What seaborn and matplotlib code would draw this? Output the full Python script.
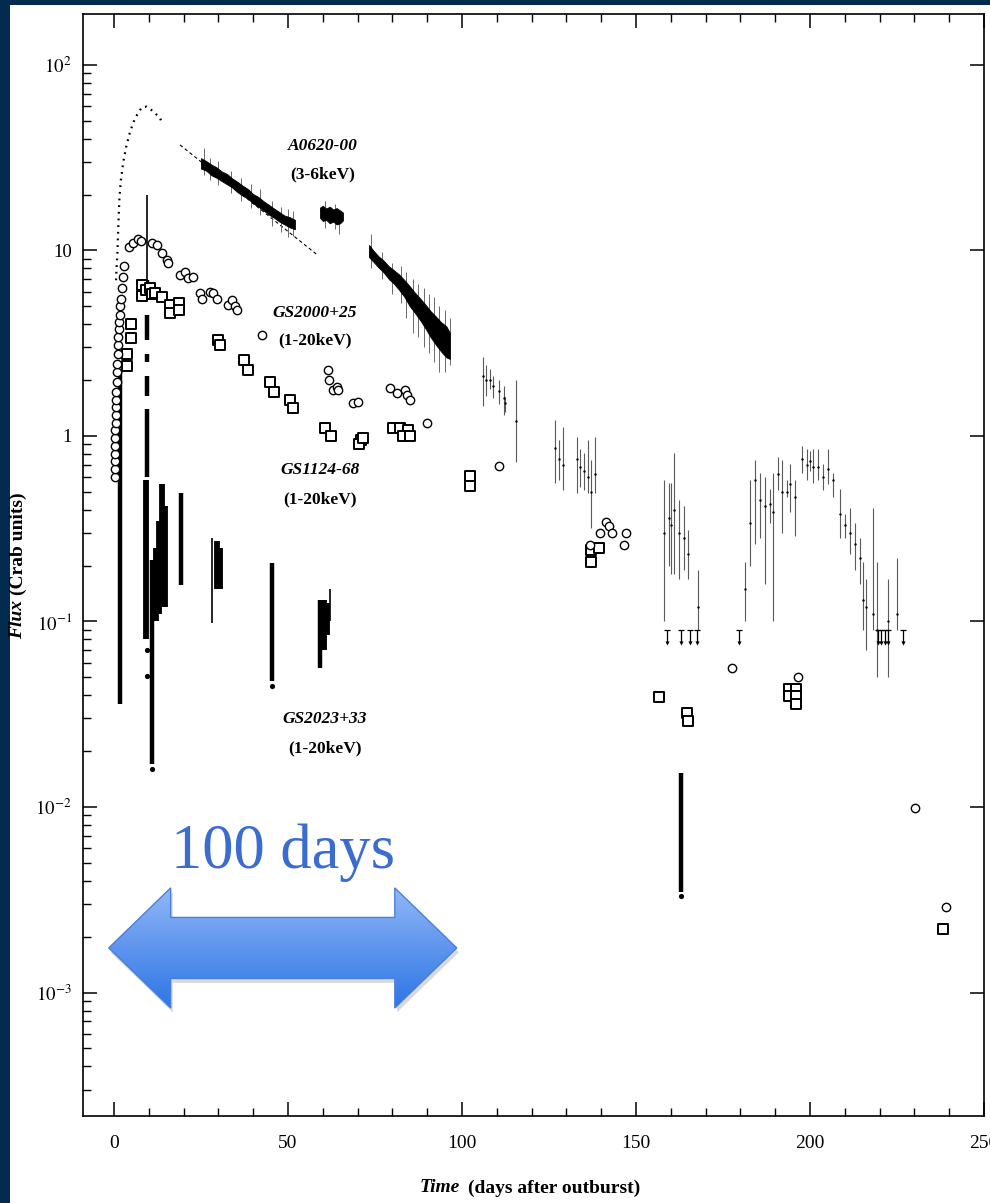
import numpy as np
import pandas as pd
import matplotlib
matplotlib.use("Agg")
import matplotlib.pyplot as plt
import seaborn as sns
from matplotlib.patches import Polygon, Rectangle
from matplotlib.colors import LinearSegmentedColormap
from matplotlib.ticker import MultipleLocator, LogLocator, NullFormatter

# ---------------------------------------------------------------- data
# A0620-00 (3-6 keV): dotted early rise
a0620_rise_day = [0.6, 0.8, 1.0, 1.2, 1.4, 1.6, 2.0, 2.7, 3.5, 4.4, 5.5, 6.7, 8.0, 9.4, 10.8, 12.2, 13.2, 13.7]
a0620_rise_flux = [6.9, 8.3, 9.7, 12.5, 15.9, 19.5, 24.0, 30.0, 36.0, 42.0, 48.6, 54.0, 59.0, 59.5, 57.0, 54.0, 52.0, 49.0]

# A0620-00 exponential decay fit (dashed)
a0620_fit_day = [19.0, 58.3]
a0620_fit_flux = [37.0, 9.5]

# A0620-00 densely sampled stretches (envelope of the error bars)
segA_day = [25.0, 26.5, 28.0, 29.5, 31.0, 32.5, 34.0, 35.5, 37.0, 38.5, 40.0, 41.5, 43.0, 44.5, 46.0, 47.5, 49.0, 50.5, 52.0]
segA_lo = [27.6, 26.9, 25.4, 24.6, 23.6, 22.7, 21.8, 20.6, 19.7, 19.0, 17.9, 17.2, 16.4, 15.6, 15.0, 14.3, 13.8, 13.3, 13.0]
segA_hi = [31.4, 30.3, 29.0, 28.0, 26.6, 25.8, 24.4, 23.4, 22.3, 21.4, 20.1, 19.4, 18.4, 17.6, 16.8, 16.1, 15.4, 15.1, 14.6]

segB_day = [59.2, 60.0, 61.0, 62.0, 63.0, 64.0, 65.0, 65.8]
segB_lo = [15.0, 14.4, 14.6, 14.0, 14.3, 13.8, 14.0, 14.5]
segB_hi = [17.0, 17.4, 16.8, 17.2, 16.6, 16.9, 16.4, 16.0]

segC_day = [73.3, 74.5, 76.0, 77.5, 79.0, 80.5, 82.0, 83.5, 85.0, 86.5, 88.0, 89.5, 91.0, 92.5, 94.0, 95.5, 96.5]
segC_lo = [9.2, 8.7, 8.1, 7.6, 7.0, 6.6, 6.1, 5.6, 5.0, 4.6, 4.2, 3.8, 3.4, 3.1, 2.85, 2.65, 2.6]
segC_hi = [10.7, 10.0, 9.3, 8.8, 8.2, 7.8, 7.4, 6.9, 6.4, 5.9, 5.5, 5.1, 4.7, 4.4, 4.1, 3.9, 3.6]

# individual long error bars sticking out of the dense stretches
spread_day = [26.0, 27.5, 30.0, 33.5, 36.5, 39.5, 42.0, 45.5, 48.0, 50.0, 51.5,
              60.5, 63.5, 64.8,
              74.0, 77.0, 80.0, 82.5, 84.0, 86.0, 87.5, 89.0, 90.5, 92.0, 93.5, 95.0, 96.5]
spread_lo = [25.5, 24.0, 22.5, 20.5, 18.5, 17.0, 15.5, 13.5, 12.6, 11.8, 11.9,
             13.2, 13.0, 12.2,
             8.0, 7.0, 5.8, 5.2, 4.3, 3.6, 3.4, 3.0, 2.8, 2.5, 2.2, 2.2, 2.4]
spread_hi = [35.5, 31.5, 30.5, 26.8, 24.5, 22.8, 21.5, 18.5, 17.2, 16.8, 16.3,
             18.5, 17.8, 15.5,
             12.2, 9.8, 8.6, 8.2, 7.6, 7.0, 6.6, 6.3, 5.8, 5.6, 5.0, 4.8, 4.3]

# A0620-00 sparse late-time points with error bars
late_day = [106.0, 107.0, 108.0, 109.0, 110.5, 112.0, 112.5, 115.6,
            126.7, 127.9, 129.0, 133.0, 134.0, 135.0, 136.3, 137.0, 138.2,
            158.0, 159.5, 160.0, 161.0, 162.4, 163.8, 165.0, 167.8,
            181.3, 182.8, 184.2, 185.6, 187.0, 188.5, 189.4, 190.8, 191.9, 193.4, 194.3, 195.7,
            197.7, 199.0, 200.0, 200.9, 202.3, 203.7, 205.2, 206.6, 208.6, 210.0, 211.5, 212.9,
            214.4, 215.2, 216.2, 218.1, 219.2, 222.5, 225.0]
late_flux = [2.1, 2.0, 2.0, 1.85, 1.75, 1.6, 1.5, 1.2,
             0.86, 0.75, 0.70, 0.75, 0.68, 0.65, 0.60, 0.50, 0.62,
             0.30, 0.36, 0.33, 0.40, 0.30, 0.28, 0.23, 0.12,
             0.15, 0.34, 0.58, 0.45, 0.42, 0.43, 0.39, 0.62, 0.50, 0.50, 0.55, 0.47,
             0.75, 0.70, 0.73, 0.68, 0.68, 0.60, 0.66, 0.58, 0.38, 0.33, 0.30, 0.26,
             0.22, 0.13, 0.12, 0.11, 0.09, 0.10, 0.11]
late_lo = [1.45, 1.65, 1.8, 1.6, 1.48, 1.3, 1.34, 0.72,
           0.56, 0.58, 0.51, 0.49, 0.53, 0.51, 0.49, 0.32, 0.49,
           0.10, 0.20, 0.18, 0.18, 0.17, 0.19, 0.17, 0.09,
           0.10, 0.20, 0.26, 0.28, 0.16, 0.34, 0.10, 0.51, 0.30, 0.47, 0.39, 0.29,
           0.63, 0.58, 0.65, 0.56, 0.58, 0.51, 0.55, 0.47, 0.28, 0.28, 0.23, 0.19,
           0.16, 0.09, 0.07, 0.09, 0.05, 0.05, 0.09]
late_hi = [2.65, 2.4, 2.3, 2.1, 2.0, 1.85, 1.62, 2.0,
           1.22, 0.95, 1.12, 0.99, 0.85, 0.81, 0.95, 0.74, 0.99,
           0.58, 0.56, 0.56, 0.81, 0.45, 0.42, 0.31, 0.19,
           0.21, 0.58, 0.74, 0.63, 0.60, 0.52, 0.63, 0.77, 0.74, 0.58, 0.71, 0.58,
           0.88, 0.85, 0.83, 0.85, 0.85, 0.71, 0.85, 0.63, 0.52, 0.38, 0.41, 0.34,
           0.28, 0.21, 0.17, 0.41, 0.21, 0.17, 0.22]

# A0620-00 upper limits
ul_day = [159.0, 163.0, 165.5, 167.5, 179.6, 219.5, 220.5, 221.5, 222.3, 226.7]
ul_flux = [0.09, 0.09, 0.09, 0.09, 0.09, 0.09, 0.09, 0.09, 0.09, 0.09]

# GS2000+25 (1-20 keV): open circles
gs2000_day = [0.2, 0.2, 0.3, 0.3, 0.3, 0.4, 0.4, 0.5, 0.5, 0.6, 0.6, 0.7, 0.8, 0.9, 1.0, 1.1,
              1.2, 1.3, 1.4, 1.5, 1.6, 1.8, 2.0, 2.3, 2.6, 3.0,
              4.3, 5.5, 6.9, 7.8,
              10.9, 12.4, 13.8, 15.2, 15.5,
              19.0, 20.4, 21.3, 22.7,
              24.7, 25.3, 27.6, 28.5, 29.6,
              32.8, 33.9, 34.8, 35.4,
              42.5,
              61.5, 61.8, 63.0, 64.0, 64.4,
              68.7, 70.1,
              79.3, 81.3, 83.6, 84.2, 85.0,
              90.0, 110.6,
              136.8, 139.7, 141.4, 142.2, 143.1, 146.6, 147.1,
              177.6, 196.6, 230.2, 239.0]
gs2000_flux = [0.60, 0.66, 0.73, 0.80, 0.88, 0.97, 1.07, 1.18, 1.30, 1.43, 1.57, 1.73, 1.95, 2.2, 2.45, 2.75,
               3.1, 3.4, 3.75, 4.1, 4.5, 5.0, 5.5, 6.3, 7.2, 8.2,
               10.4, 11.0, 11.5, 11.2,
               11.0, 10.7, 9.7, 8.9, 8.6,
               7.4, 7.6, 7.1, 7.2,
               5.9, 5.5, 6.0, 5.9, 5.5,
               5.1, 5.4, 5.0, 4.8,
               3.5,
               2.27, 2.0, 1.77, 1.83, 1.77,
               1.51, 1.52,
               1.82, 1.71, 1.77, 1.66, 1.56,
               1.17, 0.69,
               0.258, 0.30, 0.344, 0.327, 0.30, 0.258, 0.30,
               0.056, 0.050, 0.0099, 0.0029]

# GS1124-68 (1-20 keV): open squares
gs1124_day = [4.9, 4.9, 3.7, 3.7,
              8.0, 8.0, 9.2, 10.5, 11.0, 11.8, 13.8, 16.1, 16.1, 18.7, 18.7,
              29.9, 30.5, 37.4, 38.5, 44.8, 46.0, 50.6, 51.4,
              60.6, 62.4, 71.0, 70.4, 71.6,
              80.2, 82.2, 84.5, 83.0, 85.0,
              102.3, 102.3,
              137.0, 137.0, 139.4,
              156.6, 164.7, 164.9,
              194.0, 196.0, 194.0, 196.0, 196.0,
              238.2]
gs1124_flux = [4.0, 3.37, 2.77, 2.38,
               6.5, 5.7, 6.1, 6.3, 5.8, 5.9, 5.6, 5.1, 4.6, 5.2, 4.8,
               3.3, 3.1, 2.57, 2.27, 1.95, 1.73, 1.56, 1.42,
               1.10, 1.0, 0.95, 0.90, 0.97,
               1.10, 1.10, 1.07, 1.0, 1.0,
               0.61, 0.54,
               0.243, 0.21, 0.25,
               0.039, 0.032, 0.029,
               0.0434, 0.0434, 0.0395, 0.0395, 0.036,
               0.0022]

# GS2023+33 (1-20 keV): rapidly variable, plotted as vertical flux ranges
gs2023_thin_day = [9.4, 28.2, 62.0]
gs2023_thin_lo = [6.9, 0.098, 0.10]
gs2023_thin_hi = [20.0, 0.28, 0.15]

gs2023_mid_day = [1.8, 9.5, 9.5, 9.5, 9.5, 9.6, 10.9, 19.3, 45.4, 59.3, 163.0]
gs2023_mid_lo = [0.036, 5.4, 3.3, 2.5, 1.65, 0.6, 0.017, 0.158, 0.048, 0.056, 0.0035]
gs2023_mid_hi = [2.3, 6.9, 4.5, 2.75, 2.1, 1.4, 0.215, 0.49, 0.206, 0.13, 0.0152]

gs2023_thick_day = [9.3, 12.2, 13.0, 13.9, 14.7, 29.5, 30.6, 60.3, 61.3]
gs2023_thick_lo = [0.08, 0.10, 0.11, 0.12, 0.12, 0.15, 0.15, 0.07, 0.085]
gs2023_thick_hi = [0.58, 0.25, 0.35, 0.55, 0.42, 0.27, 0.25, 0.13, 0.125]

gs2023_dot_day = [9.5, 9.6, 10.9, 45.4, 163.0]
gs2023_dot_flux = [0.051, 0.07, 0.016, 0.045, 0.0033]

# span of the scale arrow, in days
arrow_start = -1.5
arrow_span = 100

# axis ticks
x_major = [0, 50, 100, 150, 200, 250]
y_major = [1e-3, 1e-2, 1e-1, 1, 10, 100]
y_major_labels = [r"$10^{-3}$", r"$10^{-2}$", r"$10^{-1}$", "1", "10", r"$10^{2}$"]

# ---------------------------------------------------------------- style
sns.set_theme(style="ticks")
plt.rcParams["font.family"] = ["Liberation Serif", "DejaVu Serif"]
plt.rcParams["mathtext.fontset"] = "stix"
plt.rcParams["axes.edgecolor"] = "black"

NAVY = "#032b4f"
INK = "black"

fig = plt.figure(figsize=(9.9, 12.03), dpi=100, facecolor=NAVY)
fig.add_artist(Rectangle((10 / 990, 0), 1, 1 - 5 / 1203, transform=fig.transFigure,
                         facecolor="white", edgecolor="none", zorder=0))

ax = fig.add_axes([0.0838, 0.0723, 0.9102, 0.9161])
ax.set_facecolor("white")
ax.set_yscale("log")
ax.set_xlim(-8.9, 250)
ax.set_ylim(2.16e-4, 188)

# --- A0620-00
sns.lineplot(x=a0620_rise_day, y=a0620_rise_flux, ax=ax, color=INK, lw=1.6,
             linestyle=(0, (0.8, 2.2)), sort=False, estimator=None)
sns.lineplot(x=a0620_fit_day, y=a0620_fit_flux, ax=ax, color=INK, lw=0.8,
             linestyle=(0, (3, 2.5)), estimator=None)
ax.vlines(spread_day, spread_lo, spread_hi, color="#6a6a6a", lw=0.7, zorder=3)
for d, lo, hi in [(segA_day, segA_lo, segA_hi), (segB_day, segB_lo, segB_hi),
                  (segC_day, segC_lo, segC_hi)]:
    ax.fill_between(d, lo, hi, color=INK, lw=0.6, edgecolor=INK, zorder=3)

ax.vlines(late_day, late_lo, late_hi, color="#5a5a5a", lw=0.8, zorder=3)
ax.scatter(late_day, late_flux, s=3, color=INK, zorder=3, linewidths=0)

ul_tip = [f * 0.85 for f in ul_flux]
ax.vlines(ul_day, ul_tip, ul_flux, color=INK, lw=0.9, zorder=3)
ax.scatter(ul_day, ul_flux, marker="_", s=18, color=INK, linewidths=0.9, zorder=3)
ax.scatter(ul_day, ul_tip, marker="v", s=9, color=INK, linewidths=0, zorder=3)

# --- GS2023+33
ax.vlines(gs2023_thin_day, gs2023_thin_lo, gs2023_thin_hi, color=INK, lw=1.2, zorder=3)
ax.vlines(gs2023_mid_day, gs2023_mid_lo, gs2023_mid_hi, color=INK, lw=3.2, zorder=3)
ax.vlines(gs2023_thick_day, gs2023_thick_lo, gs2023_thick_hi, color=INK, lw=4.2, zorder=3)
ax.scatter(gs2023_dot_day, gs2023_dot_flux, s=14, color=INK, linewidths=0, zorder=3)

# --- GS2000+25 and GS1124-68
df2000 = pd.DataFrame({"day": gs2000_day, "flux": gs2000_flux})
df1124 = pd.DataFrame({"day": gs1124_day, "flux": gs1124_flux})
sns.scatterplot(data=df1124, x="day", y="flux", ax=ax, marker="s", s=62,
                facecolor="white", edgecolor=INK, linewidth=1.4, zorder=4)
sns.scatterplot(data=df2000, x="day", y="flux", ax=ax, marker="o", s=36,
                facecolor="white", edgecolor=INK, linewidth=1.0, zorder=5)

# --- source labels
lab = dict(ha="center", va="center", fontsize=12.5, fontweight="bold", color=INK)
ax.text(60.1, 36.6, "A0620-00", fontstyle="italic", **lab)
ax.text(60.1, 25.8, "(3-6keV)", **lab)
ax.text(57.8, 4.6, "GS2000+25", fontstyle="italic", **lab)
ax.text(57.8, 3.26, "(1-20keV)", **lab)
ax.text(59.2, 0.656, "GS1124-68", fontstyle="italic", **lab)
ax.text(59.2, 0.457, "(1-20keV)", **lab)
ax.text(60.6, 0.0298, "GS2023+33", fontstyle="italic", **lab)
ax.text(60.6, 0.0208, "(1-20keV)", **lab)

# --- axes decoration
ax.set_xticks(x_major)
ax.set_xticklabels([str(v) for v in x_major])
ax.xaxis.set_minor_locator(MultipleLocator(10))
ax.set_yticks(y_major)
ax.set_yticklabels(y_major_labels)
ax.yaxis.set_minor_locator(LogLocator(base=10, subs=np.arange(2, 10) * 1.0, numticks=30))
ax.yaxis.set_minor_formatter(NullFormatter())
ax.tick_params(which="major", direction="in", length=10, width=1.1, color=INK,
               top=True, right=True, bottom=True, left=True)
ax.tick_params(which="minor", direction="in", length=6, width=1.0, color=INK)
ax.tick_params(axis="x", which="minor", top=True, bottom=True)
ax.tick_params(axis="y", which="minor", left=True, right=False)
ax.tick_params(axis="x", which="major", labelsize=14, pad=14, labelcolor=INK)
ax.tick_params(axis="y", which="major", labelsize=13.5, pad=8, labelcolor=INK)
for sp in ax.spines.values():
    sp.set_linewidth(1.2)
    sp.set_color(INK)
ax.set_xlabel("")
ax.set_ylabel("")

fig.text(460 / 990, 1 - 1188 / 1203, "Time", ha="right", va="center", fontsize=14,
         fontweight="bold", fontstyle="italic", color=INK)
fig.text(468 / 990, 1 - 1188 / 1203, "(days after outburst)", ha="left", va="center",
         fontsize=14, fontweight="bold", color=INK)
fig.text(18 / 990, 1 - 600 / 1203, "Flux", rotation=90, ha="center", va="top",
         fontsize=14, fontweight="bold", fontstyle="italic", color=INK)
fig.text(18 / 990, 1 - 595 / 1203, "(Crab units)", rotation=90, ha="center", va="bottom",
         fontsize=14, fontweight="bold", color=INK)

# --- scale arrow overlay (x in days, y in axes fraction)
ov = fig.add_axes(ax.get_position(), facecolor="none")
ov.set_xlim(ax.get_xlim())
ov.set_ylim(0, 1)
ov.axis("off")

s = arrow_start
e = arrow_start + arrow_span
yc, hh, sh, hl = 0.1525, 0.0545, 0.0277, 17.8
verts = [(s, yc), (s + hl, yc + hh), (s + hl, yc + sh), (e - hl, yc + sh), (e - hl, yc + hh),
         (e, yc), (e - hl, yc - hh), (e - hl, yc - sh), (s + hl, yc - sh), (s + hl, yc - hh)]
shadow = Polygon([(x + 0.6, y - 0.004) for x, y in verts], closed=True,
                 facecolor="#000000", alpha=0.15, edgecolor="none", zorder=4)
ov.add_patch(shadow)
arrow = Polygon(verts, closed=True, facecolor="none", edgecolor="#4a80d8", lw=1.0, zorder=6)
ov.add_patch(arrow)
cmap = LinearSegmentedColormap.from_list("arrowgrad", ["#2c76e4", "#5f95ee", "#92b9f7"])
grad = np.linspace(0, 1, 256).reshape(-1, 1)
im = ov.imshow(grad, extent=(s, e, yc - hh, yc + hh), aspect="auto", cmap=cmap,
               origin="lower", zorder=5, interpolation="bilinear")
im.set_clip_path(arrow)
ov.set_xlim(ax.get_xlim())
ov.set_ylim(0, 1)

ov.text(s + arrow_span / 2, 0.239, "100 days", ha="center", va="center", fontsize=45,
        color="#3b6ccf", family="Liberation Serif")

fig.savefig("out.png", dpi=100, facecolor=NAVY)
